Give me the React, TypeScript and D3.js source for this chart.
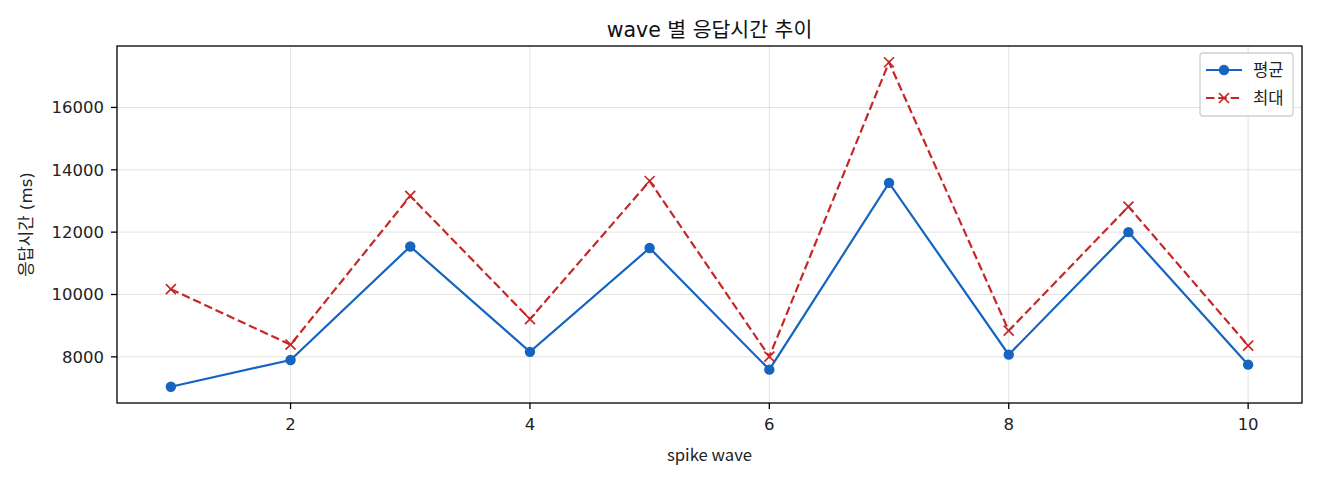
import React from "react";
import * as d3 from "d3";

const waves = [1, 2, 3, 4, 5, 6, 7, 8, 9, 10];
const avgValues = [7040, 7900, 11540, 8160, 11490, 7590, 13580, 8070, 12000, 7750];
const maxValues = [10170, 8390, 13160, 9210, 13640, 8010, 17450, 8840, 12820, 8360];
const xTicks = [2, 4, 6, 8, 10];
const yTicks = [8000, 10000, 12000, 14000, 16000];
const seriesNames = ["평균", "최대"];
const title = "wave 별 응답시간 추이";
const xLabel = "spike wave";
const yLabel = "응답시간 (ms)";

const W = 1320;
const H = 480;
const L = 117, R = 1302, T = 46, B = 403;
const FONT = "'Noto Sans CJK KR', 'Noto Sans', sans-serif";
const WIDE = "'DejaVu Sans', 'Noto Sans CJK KR', sans-serif";
const BLUE = "#1565c0";
const RED = "#c62828";

export default function App() {
  const xMin = d3.min(waves)!, xMax = d3.max(waves)!;
  const xPad = (xMax - xMin) * 0.05;
  const x = d3.scaleLinear().domain([xMin - xPad, xMax + xPad]).range([L, R]);
  const all = [...avgValues, ...maxValues];
  const yMin = d3.min(all)!, yMax = d3.max(all)!;
  const yPad = (yMax - yMin) * 0.05;
  const y = d3.scaleLinear().domain([yMin - yPad, yMax + yPad]).range([B, T]);

  const line = d3.line<number>().x((_, i) => x(waves[i])).y((d) => y(d));
  const fs = 16.7;
  const tfs = 16.5;

  const xMark = (cx: number, cy: number, key: string | number) => (
    <g key={key} stroke={RED} strokeWidth={1.7}>
      <line x1={cx - 5} y1={cy - 5} x2={cx + 5} y2={cy + 5} />
      <line x1={cx - 5} y1={cy + 5} x2={cx + 5} y2={cy - 5} />
    </g>
  );

  return (
    <svg width={W} height={H} style={{ position: "absolute", left: 0, top: 0, background: "#fff" }} fontFamily={FONT}>
      <rect x={0} y={0} width={W} height={H} fill="#fff" />
      {/* grid */}
      <g stroke="#b0b0b0" strokeOpacity={0.35} strokeWidth={1}>
        {xTicks.map((t) => (
          <line key={"gx" + t} x1={x(t)} x2={x(t)} y1={T} y2={B} />
        ))}
        {yTicks.map((t) => (
          <line key={"gy" + t} x1={L} x2={R} y1={y(t)} y2={y(t)} />
        ))}
      </g>
      {/* lines */}
      <path d={line(avgValues)!} fill="none" stroke={BLUE} strokeWidth={2.2} />
      <path d={line(maxValues)!} fill="none" stroke={RED} strokeWidth={2.2} strokeDasharray="8.5,3.8" />
      {avgValues.map((v, i) => (
        <circle key={"c" + i} cx={x(waves[i])} cy={y(v)} r={5.2} fill={BLUE} />
      ))}
      {maxValues.map((v, i) => xMark(x(waves[i]), y(v), "m" + i))}
      {/* frame */}
      <rect x={L} y={T} width={R - L} height={B - T} fill="none" stroke="#000" strokeWidth={1.3} />
      {/* x ticks */}
      {xTicks.map((t) => (
        <g key={"xt" + t}>
          <line x1={x(t)} x2={x(t)} y1={B} y2={B + 6} stroke="#000" strokeWidth={1.3} />
          <text x={x(t)} y={430} textAnchor="middle" fontSize={tfs} fontFamily={WIDE} fill="#222">{t}</text>
        </g>
      ))}
      {yTicks.map((t) => (
        <g key={"yt" + t}>
          <line x1={L - 6} x2={L} y1={y(t)} y2={y(t)} stroke="#000" strokeWidth={1.3} />
          <text x={104} y={y(t)} dy="0.36em" textAnchor="end" fontSize={tfs} fontFamily={WIDE} fill="#222">{t}</text>
        </g>
      ))}
      {/* labels */}
      <text x={(L + R) / 2} y={37} textAnchor="middle" fontSize={20.5} fontFamily={WIDE} fill="#111">{title}</text>
      <text x={(L + R) / 2} y={461} textAnchor="middle" fontSize={fs} fill="#222">{xLabel}</text>
      <text transform={`translate(32,${(T + B) / 2}) rotate(-90)`} textAnchor="middle" fontSize={fs} fontFamily={WIDE} fill="#222">{yLabel}</text>
      {/* legend */}
      <g>
        <rect x={1200} y={53} width={93} height={63} rx={3} fill="#fff" fillOpacity={0.8} stroke="#d0d0d0" strokeWidth={1.3} />
        <line x1={1206} x2={1242} y1={70} y2={70} stroke={BLUE} strokeWidth={2.2} />
        <circle cx={1224} cy={70} r={5.2} fill={BLUE} />
        <text x={1253} y={70} dy="0.35em" fontSize={fs} fill="#222">{seriesNames[0]}</text>
        <line x1={1206} x2={1242} y1={98} y2={98} stroke={RED} strokeWidth={2.2} strokeDasharray="8.5,3.8" />
        {xMark(1224, 98, "lg")}
        <text x={1253} y={98} dy="0.35em" fontSize={fs} fill="#222">{seriesNames[1]}</text>
      </g>
    </svg>
  );
}
